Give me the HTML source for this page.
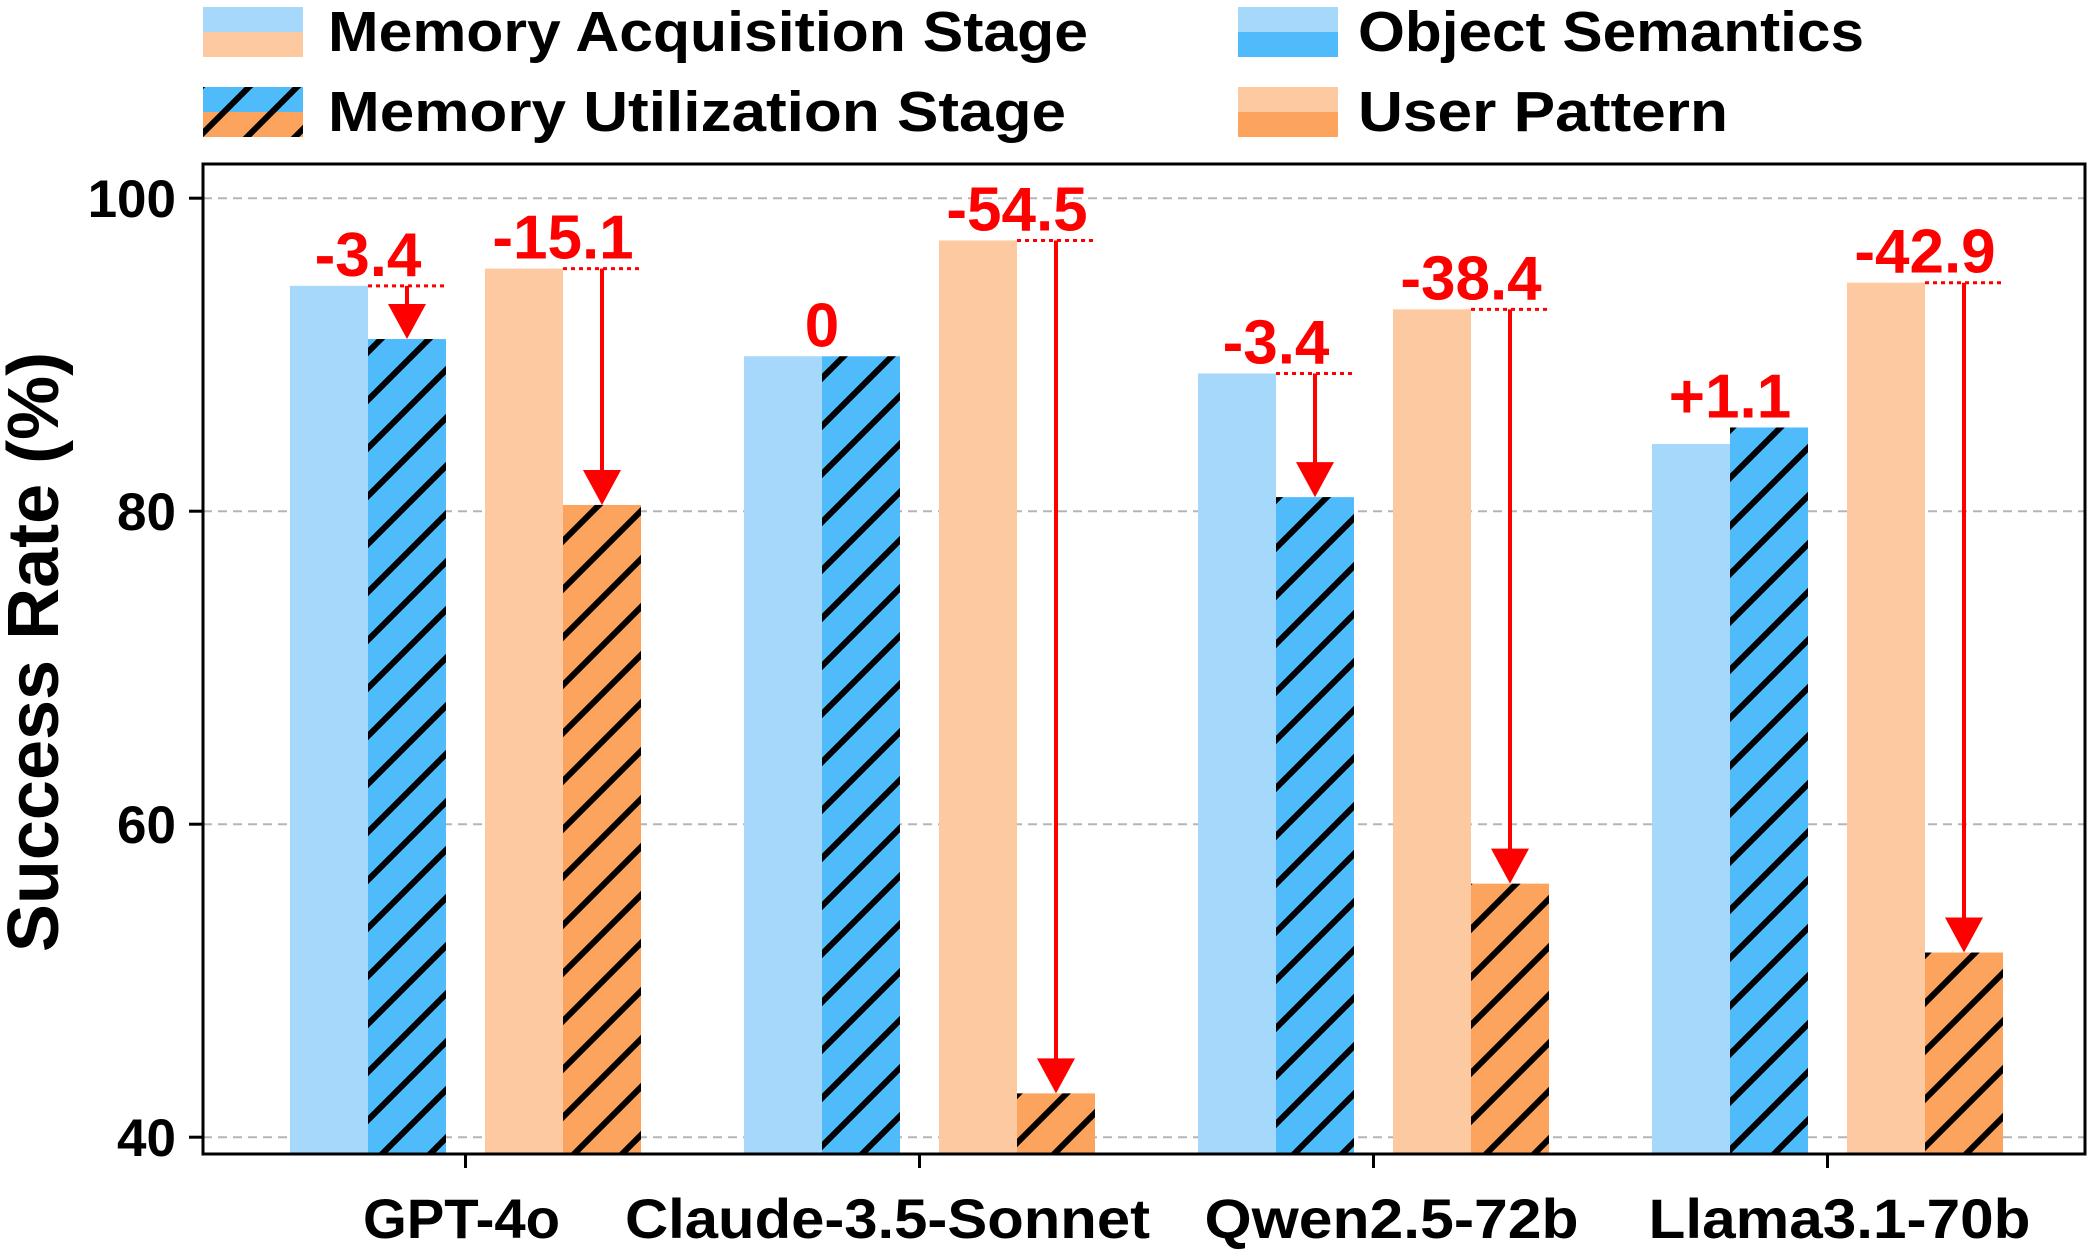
<!DOCTYPE html>
<html><head><meta charset="utf-8"><style>html,body{margin:0;padding:0;background:#fff}svg{display:block}</style></head>
<body>
<svg id="chart" width="2088" height="1251" viewBox="0 0 2088 1251" xmlns="http://www.w3.org/2000/svg" font-family="'Liberation Sans', sans-serif" font-weight="bold">
<defs>
<pattern id="hatch" patternUnits="userSpaceOnUse" width="48" height="48">
<line x1="-6" y1="54" x2="54" y2="-6" stroke="#000" stroke-width="6"/>
<line x1="-30" y1="30" x2="30" y2="-30" stroke="#000" stroke-width="6"/>
<line x1="18" y1="78" x2="78" y2="18" stroke="#000" stroke-width="6"/>
</pattern>
</defs>
<g id="legend">
<g>
<rect x="203" y="7" width="100" height="25" fill="#a6d8fc"/><rect x="203" y="32" width="100" height="25" fill="#fdc9a1"/>
<text x="328" y="51" font-size="57" textLength="760" lengthAdjust="spacingAndGlyphs">Memory Acquisition Stage</text></g>
<g>
<rect x="203" y="87" width="100" height="25" fill="#4fbbfb"/><rect x="203" y="112" width="100" height="25" fill="#fca35d"/>
<rect x="203" y="87" width="100" height="50" fill="url(#hatch)"/>
<text x="328" y="131" font-size="57" textLength="738" lengthAdjust="spacingAndGlyphs">Memory Utilization Stage</text></g>
<g>
<rect x="1238" y="7" width="100" height="25" fill="#a6d8fc"/><rect x="1238" y="32" width="100" height="25" fill="#4fbbfb"/>
<text x="1358" y="51" font-size="57" textLength="506" lengthAdjust="spacingAndGlyphs">Object Semantics</text></g>
<g>
<rect x="1238" y="87" width="100" height="25" fill="#fdc9a1"/><rect x="1238" y="112" width="100" height="25" fill="#fca35d"/>
<text x="1358" y="131" font-size="57" textLength="370" lengthAdjust="spacingAndGlyphs">User Pattern</text></g>
</g>
<g id="grid"></g>
<g id="bars"></g>
<g id="annot"></g>
<rect x="203" y="164" width="1882" height="990" fill="none" stroke="#000" stroke-width="3"/>
<g id="axes"></g>
<text transform="translate(58,652) rotate(-90)" text-anchor="middle" font-size="72">Success Rate (%)</text>
</svg>
<script>
const categories = ["GPT-4o","Claude-3.5-Sonnet","Qwen2.5-72b","Llama3.1-70b"];
const objAcq = [94.4, 89.9, 88.8, 84.3];
const objUtil = [91.0, 89.9, 80.9, 85.35];
const userAcq = [95.5, 97.3, 92.9, 94.6];
const userUtil = [80.4, 42.8, 56.2, 51.8];
const objDeltaLabels = ["-3.4","0","-3.4","+1.1"];
const userDeltaLabels = ["-15.1","-54.5","-38.4","-42.9"];
const yTicks = [40,60,80,100];

const NS="http://www.w3.org/2000/svg";
const y = v => 198.2 + (100 - v) * 15.65;
const groupX = i => 290 + i * 454;
const BW = 78;
const labelWidth = [197, 525, 374, 382];
const labelShift = [-4, -32, 18, 12];
function mk(tag, attrs, parent){const e=document.createElementNS(NS,tag);for(const k in attrs)e.setAttribute(k,attrs[k]);parent.appendChild(e);return e;}
const grid=document.getElementById('grid'), bars=document.getElementById('bars'), annot=document.getElementById('annot'), axes=document.getElementById('axes');
yTicks.forEach(t=>{
  const g=mk('line',{x1:203,x2:2085,y1:y(t),y2:y(t),stroke:'#b5b5b5','stroke-width':2,'stroke-dasharray':'9,6'},grid);
  
  
  const tk=mk('line',{x1:189,x2:203,y1:y(t),y2:y(t),stroke:'#000','stroke-width':3},axes);
  
  
  const tx=mk('text',{x:176,y:y(t)+19,'text-anchor':'end','font-size':53},axes);
  tx.textContent=t;
  
  
});
function bar(x,v,fill,hatch,name){
  const r=mk('rect',{x:x,y:y(v),width:BW,height:1154-y(v),fill:fill},bars);
  
  
  if(hatch){const h=mk('rect',{x:x,y:y(v),width:BW,height:1154-y(v),fill:'url(#hatch)'},bars);
    
    }
}
function delta(x0,a,b,label,name){
  const top=Math.max(a,b);
  const lx=x0+BW;
  const t=mk('text',{x:lx,y:y(top)-10,'text-anchor':'middle','font-size':62,fill:'#ff0000'},annot);
  t.textContent=label;
  
  
  if(b<a){
    const d=mk('line',{x1:lx,x2:lx+BW,y1:y(a),y2:y(a),stroke:'#ff0000','stroke-width':3,'stroke-dasharray':'4,4'},annot);
    
    
    const cx=lx+BW/2;
    const l=mk('line',{x1:cx,x2:cx,y1:y(a),y2:y(b)-30,stroke:'#ff0000','stroke-width':4},annot);
    
    
    const p=mk('polygon',{points:`${cx-19},${y(b)-35} ${cx+19},${y(b)-35} ${cx},${y(b)}`,fill:'#ff0000'},annot);
    
    
  }
}
categories.forEach((c,i)=>{
  const gx=groupX(i);
  bar(gx,objAcq[i],'#a6d8fc',false,'bar-object-acq-'+i);
  bar(gx+BW,objUtil[i],'#4fbbfb',true,'bar-object-util-'+i);
  bar(gx+2.5*BW,userAcq[i],'#fdc9a1',false,'bar-user-acq-'+i);
  bar(gx+3.5*BW,userUtil[i],'#fca35d',true,'bar-user-util-'+i);
  delta(gx,objAcq[i],objUtil[i],objDeltaLabels[i],'delta-object-'+i);
  delta(gx+2.5*BW,userAcq[i],userUtil[i],userDeltaLabels[i],'delta-user-'+i);
  const cx=gx+2.25*BW;
  const tk=mk('line',{x1:cx,x2:cx,y1:1154,y2:1168,stroke:'#000','stroke-width':3},axes);
  
  
  const tx=mk('text',{x:cx+labelShift[i],y:1238,'text-anchor':'middle','font-size':56,textLength:labelWidth[i],lengthAdjust:'spacingAndGlyphs'},axes);
  tx.textContent=c;
  
  
});
</script>
</body></html>
